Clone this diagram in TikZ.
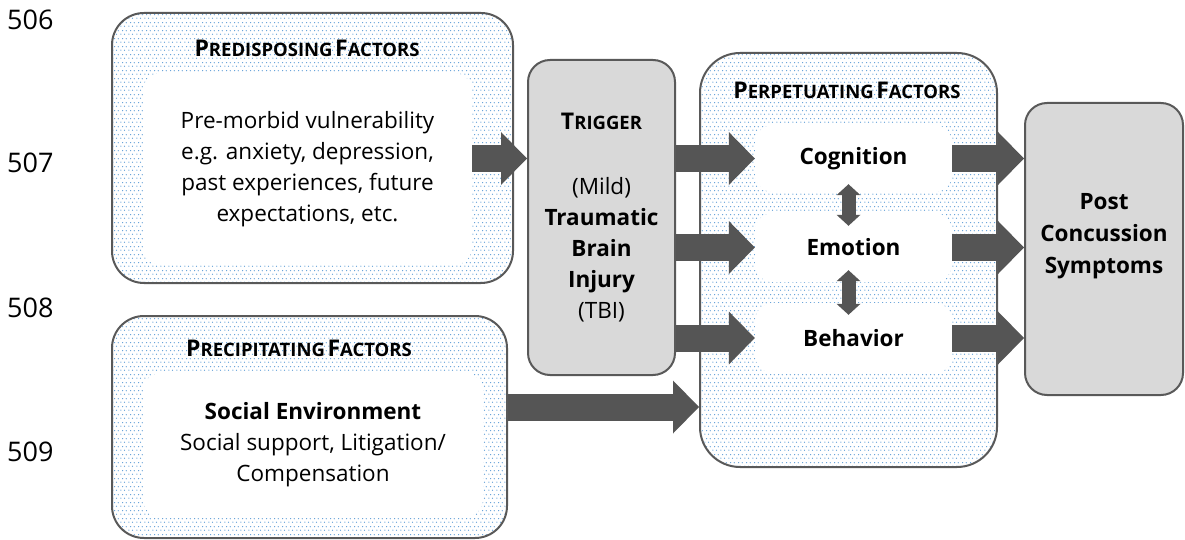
\documentclass[tikz,border=0pt]{standalone}
\usepackage{fontspec}
\setmainfont{Open Sans}
\usetikzlibrary{arrows.meta}
\usetikzlibrary{patterns.meta}
\definecolor{dotblue}{HTML}{5B9BD5}
\definecolor{edgegray}{HTML}{595959}
\definecolor{arrowgray}{HTML}{555555}
\definecolor{boxgray}{HTML}{D9D9D9}
\pgfdeclarepattern{
    name=bluedots,
    type=colored,
    bottom left={\pgfpoint{0pt}{0pt}},
    top right={\pgfpoint{8pt}{8pt}},
    tile size={\pgfpoint{8pt}{8pt}},
    code={
        \pgfsetfillcolor{dotblue}
        \pgfpathcircle{\pgfpoint{1pt}{2pt}}{0.7pt}
        \pgfpathcircle{\pgfpoint{5pt}{2pt}}{0.7pt}
        \pgfpathcircle{\pgfpoint{3pt}{6pt}}{0.7pt}
        \pgfpathcircle{\pgfpoint{7pt}{6pt}}{0.7pt}
        \pgfusepath{fill}
    }
}
\newcommand{\smallcap}[2]{{\fontsize{23}{28}\selectfont#1}{\fontsize{18.5}{22}\selectfont#2}}
\tikzset{
    factorbox/.style={draw=edgegray, line width=2pt, rounded corners=32pt,
        pattern=bluedots, inner sep=0pt},
    innerbox/.style={fill=white, rounded corners=18pt, inner sep=0pt, align=center},
    greybox/.style={draw=edgegray, line width=2pt, fill=boxgray, rounded corners=22pt,
        inner sep=0pt, align=center},
    factortitle/.style={font=\bfseries, inner sep=0pt},
    stagebox/.style={innerbox, minimum width=197pt, font=\bfseries\fontsize{22.5}{31}\selectfont},
    blockarrow/.style={arrowgray, line width=27pt,
        -{Triangle[length=26pt, width=53pt, line width=0pt]}},
    twoway/.style={arrowgray, line width=14pt,
        {Triangle[length=11pt, width=24pt, line width=0pt]}-{Triangle[length=11pt, width=24pt, line width=0pt]}},
    linenum/.style={anchor=west, inner sep=0pt, font=\fontsize{27}{30}\selectfont}
}
\begin{document}
\begin{tikzpicture}[x=1pt, y=-1pt, font=\fontsize{22.5}{31}\selectfont]
    \useasboundingbox (0,0) rectangle (1185,540);

    \node[linenum] (L506) at (7,20) {506};
    \node[linenum] (L507) at (7,163) {507};
    \node[linenum] (L508) at (7,308) {508};
    \node[linenum] (L509) at (7,452) {509};

    \node[factorbox, minimum width=401pt, minimum height=270pt] (PRED) at (312.5,148) {};
    \node[innerbox, minimum width=329pt, minimum height=192pt] (PREDIN) at (307.5,169)
        {Pre-morbid vulnerability\\e.g. anxiety, depression,\\past experiences, future\\expectations, etc.};
    \node[factortitle] (PREDT) at (307,48) {\smallcap{P}{REDISPOSING} \smallcap{F}{ACTORS}};

    \node[factorbox, minimum width=395pt, minimum height=222pt] (PREC) at (309.5,427) {};
    \node[innerbox, minimum width=340pt, minimum height=144pt] (PRECIN) at (313,445)
        {\textbf{Social Environment}\\Social support, Litigation/\\Compensation};
    \node[factortitle] (PRECT) at (299,348) {\smallcap{P}{RECIPITATING} \smallcap{F}{ACTORS}};

    \node[greybox, minimum width=147pt, minimum height=315pt] (TRIG) at (601.5,217.5)
        {{\bfseries\smallcap{T}{RIGGER}}\\[34pt](Mild)\\\textbf{Traumatic}\\\textbf{Brain}\\\textbf{Injury}\\(TBI)};

    \node[factorbox, rounded corners=40pt, minimum width=297pt, minimum height=414pt] (PERP) at (848.5,260) {};
    \node[factortitle] (PERPT) at (847,90) {\smallcap{P}{ERPETUATING} \smallcap{F}{ACTORS}};
    \node[stagebox, minimum height=67pt] (COG) at (853.5,158.5) {Cognition};
    \node[stagebox, minimum height=69pt] (EMO) at (853.5,247.5) {Emotion};
    \node[stagebox, minimum height=70pt] (BEH) at (853.5,338) {Behavior};

    \node[greybox, minimum width=158pt, minimum height=292pt] (POST) at (1104,249) {};
    \node[align=center, inner sep=0pt, font=\bfseries\fontsize{22.5}{32}\selectfont] (POSTT) at (1104,236)
        {Post\\Concussion\\Symptoms};

    \coordinate (SOCROW) at (0,407);

    \draw[blockarrow] (PREDIN.east |- COG) -- (TRIG.west |- COG);
    \draw[blockarrow] (PREC.east |- SOCROW) -- (PERP.west |- SOCROW);

    \draw[blockarrow] (TRIG.east |- COG) -- (COG.west);
    \draw[blockarrow] (TRIG.east |- EMO) -- (EMO.west);
    \draw[blockarrow] (TRIG.east |- BEH) -- (BEH.west);

    \draw[blockarrow] (COG.east) -- (POST.west |- COG);
    \draw[blockarrow] (EMO.east) -- (POST.west |- EMO);
    \draw[blockarrow] (BEH.east) -- (POST.west |- BEH);

    \draw[twoway] ([xshift=-5pt, yshift=8pt]COG.south) -- ([xshift=-5pt, yshift=-13pt]EMO.north);
    \draw[twoway] ([xshift=-5pt, yshift=12pt]EMO.south) -- ([xshift=-5pt, yshift=-12pt]BEH.north);
\end{tikzpicture}
\end{document}
